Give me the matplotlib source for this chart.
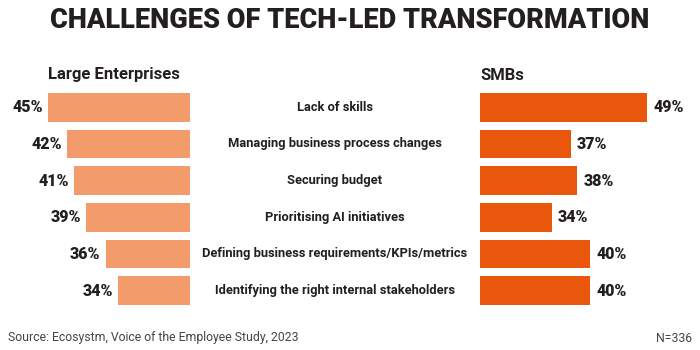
import matplotlib
matplotlib.use("Agg")
from matplotlib import pyplot as plt
from matplotlib.transforms import blended_transform_factory

# Chart data
categories = [
    "Lack of skills",
    "Managing business process changes",
    "Securing budget",
    "Prioritising AI initiatives",
    "Defining business requirements/KPIs/metrics",
    "Identifying the right internal stakeholders",
]
large_enterprises = [45, 42, 41, 39, 36, 34]
smbs = [49, 37, 38, 34, 40, 40]

light_orange = "#F39B6B"
dark_orange = "#E8570C"
text_color = "#231F20"

plt.rcParams["font.family"] = ["Roboto", "DejaVu Sans"]

W, H = 700, 350
fig = plt.figure(figsize=(7, 3.5), dpi=100)

# scale of the bars: ~6.35 px per percent, axis starts at ~22.7
px_per_pct = 6.35
base = 22.7
top_px, bottom_px = 89, 309

def axes_rect(x0, x1):
    return [x0 / W, (H - bottom_px) / H, (x1 - x0) / W, (bottom_px - top_px) / H]

rows = list(range(len(categories)))

# Left panel: Large Enterprises (bars grow leftwards)
ax_l = fig.add_axes(axes_rect(0, 190))
ax_l.barh(rows, large_enterprises, height=0.775, color=light_orange)
ax_l.set_xlim(base + 190 / px_per_pct, base)
ax_l.set_ylim(len(categories) - 0.5, -0.5)
for y, v in zip(rows, large_enterprises):
    ax_l.text(v + 0.8, y, f"{v}%", ha="right", va="center",
              fontsize=11.5, fontweight="heavy", color=text_color)
ax_l.axis("off")

# Right panel: SMBs
ax_r = fig.add_axes(axes_rect(480, 700))
ax_r.barh(rows, smbs, height=0.775, color=dark_orange)
ax_r.set_xlim(base, base + 220 / px_per_pct)
ax_r.set_ylim(len(categories) - 0.5, -0.5)
for y, v in zip(rows, smbs):
    ax_r.text(v + 1.0, y, f"{v}%", ha="left", va="center",
              fontsize=11.5, fontweight="heavy", color=text_color)
ax_r.axis("off")

# Category labels in the middle
mid = blended_transform_factory(fig.transFigure, ax_r.transData)
for y, cat in zip(rows, categories):
    ax_r.text(335 / W, y, cat, transform=mid, ha="center", va="center",
              fontsize=9.3, fontweight="bold", color=text_color, clip_on=False)

# Headers and title
fig.text(48 / W, 1 - 75 / H, "Large Enterprises", ha="left", va="center",
         fontsize=12, fontweight="bold", color=text_color)
fig.text(480 / W, 1 - 75 / H, "SMBs", ha="left", va="center",
         fontsize=12, fontweight="bold", color=text_color)
fig.text(0.5, 1 - 21 / H, "CHALLENGES OF TECH-LED TRANSFORMATION", ha="center",
         va="center", fontsize=19.5, fontweight="heavy", color=text_color)

# Footer
fig.text(8 / W, 1 - 338 / H, "Source: Ecosystm, Voice of the Employee Study, 2023",
         ha="left", va="center", fontsize=8.8, fontweight="normal", color="#444444")
fig.text(692 / W, 1 - 338 / H, "N=336", ha="right", va="center",
         fontsize=8.8, fontweight="normal", color="#444444")

fig.savefig("out.png", dpi=100, facecolor="white")
